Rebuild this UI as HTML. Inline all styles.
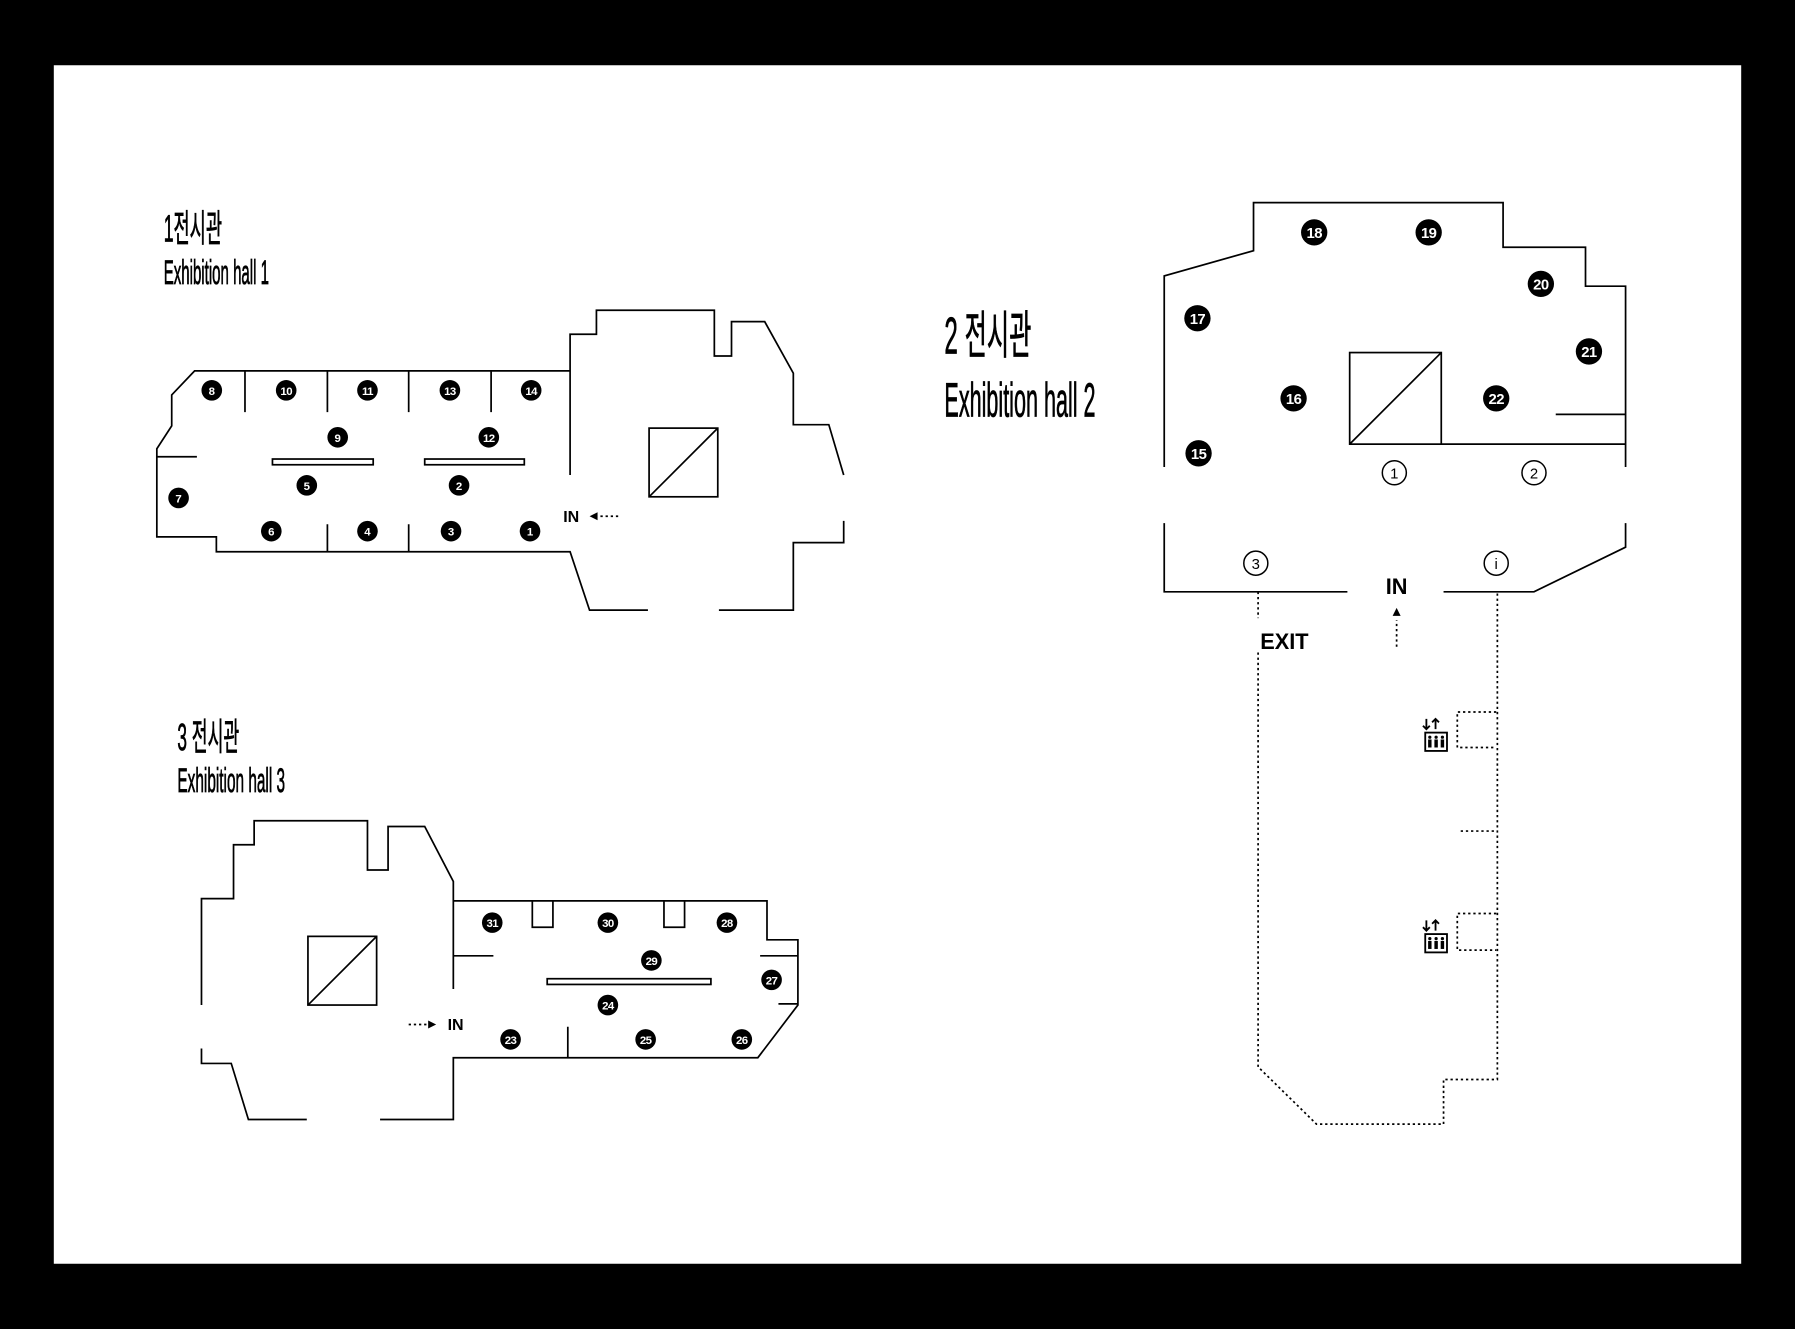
<!DOCTYPE html>
<html><head><meta charset="utf-8"><style>
html,body{margin:0;padding:0;background:#000;}
svg{display:block;}
text{font-family:"Liberation Sans","Noto Sans CJK KR",sans-serif;}
.t{font-family:"Liberation Sans Narrow","Liberation Sans","Noto Sans CJK KR",sans-serif;}
</style></head><body>
<svg width="1795" height="1329" viewBox="0 0 1568 1161" preserveAspectRatio="none" xmlns="http://www.w3.org/2000/svg">
<rect x="0" y="0" width="1568" height="1161" fill="#000"/>
<rect x="47" y="57" width="1474" height="1047" fill="#fff"/>
<defs>
<g id="elev">
<path d="M-9,-16 v9 M-12,-10 l3,3 l3,-3 M-1,-7 v-9 M-4,-13 l3,-3 l3,3" stroke="#000" stroke-width="1.6" fill="none"/>
<rect x="-10" y="-4" width="19" height="16" fill="#fff" stroke="#000" stroke-width="1.6"/>
<g fill="#000"><rect x="-7.5" y="2" width="3" height="7"/><rect x="-2" y="2" width="3" height="7"/><rect x="3.5" y="2" width="3" height="7"/>
<circle cx="-6" cy="0" r="1.4"/><circle cx="-0.5" cy="0" r="1.4"/><circle cx="5" cy="0" r="1.4"/></g>
</g>
</defs>

<!-- Titles -->
<g class="t" fill="#000" stroke="#000" stroke-width="0.7">
<text x="143" y="211" font-size="33" textLength="51" lengthAdjust="spacingAndGlyphs">1전시관</text>
<text x="143" y="248" font-size="30" textLength="92" lengthAdjust="spacingAndGlyphs">Exhibition hall 1</text>
<text x="825" y="309" font-size="45" textLength="76" lengthAdjust="spacingAndGlyphs">2 전시관</text>
<text x="825" y="364" font-size="42" textLength="132" lengthAdjust="spacingAndGlyphs">Exhibition hall 2</text>
<text x="155" y="655" font-size="33" textLength="54" lengthAdjust="spacingAndGlyphs">3 전시관</text>
<text x="155" y="692" font-size="30" textLength="94" lengthAdjust="spacingAndGlyphs">Exhibition hall 3</text>
</g>

<g stroke="#000" stroke-width="1.5" fill="none">
<!-- Hall 1 -->
<path d="M498,324 H170 L150,345 V372 L137,392 V469 H189 V482 H498 L515,533 H566"/>
<path d="M137,399 H172"/>
<path d="M214,324 V360 M286,324 V360 M357,324 V360 M429,324 V360"/>
<path d="M286,458 V482 M357,458 V482"/>
<rect x="238" y="401" width="88" height="5"/>
<rect x="371" y="401" width="87" height="5"/>
<path d="M498,415 V292 H521 V271 H624 V311 H639 V281 H668 L693,326 V371 H724 L737,415"/>
<path d="M737,455 V474 H693 V533 H628"/>
<rect x="567" y="374" width="60" height="60"/>
<path d="M567,434 L627,374"/>
<!-- Hall 2 -->
<path d="M1017,408 V241 L1095,219 V177 H1313 V216 H1385 V250 H1420 V408"/>
<path d="M1017,457 V517 H1177 M1261,517 H1340 L1420,478 V457"/>
<rect x="1179" y="308" width="80" height="80"/>
<path d="M1179,388 L1259,308 M1259,388 H1420 M1359,362 H1420"/>
<!-- Hall 3 -->
<path d="M176,878 V785 H204 V738 H222 V717 H321 V760 H339 V722 H371 L396,770 V864"/>
<path d="M396,787 H670 V821 H697 V878 L662,924 H396 V978 H332"/>
<path d="M176,916 V929 H202 L217,978 H268"/>
<path d="M396,835 H431 M664,835 H697 M680,877 H697 M496,897 V924"/>
<path d="M465,787 V810 H483 V787 M580,787 V810 H598 V787"/>
<rect x="478" y="855" width="143" height="5"/>
<rect x="269" y="818" width="60" height="60"/>
<path d="M269,878 L329,818"/>
</g>

<!-- dotted -->
<g stroke="#000" stroke-width="1.5" fill="none" stroke-dasharray="2,2.5">
<path d="M540,451 H522"/>
<path d="M357,895 H374"/>
<path d="M1220,565 V542"/>
<path d="M1099,517 V540 M1099,570 V932 L1150,982 H1261 V943 H1308 V517"/>
<path d="M1307,622 H1273 V653 H1307 M1307,798 H1273 V830 H1307 M1276,726 H1307"/>
</g>
<g fill="#000">
<path d="M515,451 l7,-3.5 v7 z"/>
<path d="M381,895 l-7,-3.5 v7 z"/>
<path d="M1220,531 l-3.5,7 h7 z"/>
</g>
<g font-weight="bold" fill="#000">
<text x="499" y="456" font-size="14" text-anchor="middle">IN</text>
<text x="398" y="900" font-size="14" text-anchor="middle">IN</text>
<text x="1220" y="519" font-size="19" text-anchor="middle">IN</text>
<text x="1122" y="567" font-size="19" text-anchor="middle">EXIT</text>
</g>
<use href="#elev" x="1255" y="644"/>
<use href="#elev" x="1255" y="820"/>

<!-- outline circles -->
<g stroke="#000" stroke-width="1.3" fill="#fff">
<circle cx="1218" cy="413" r="10.5"/><circle cx="1340" cy="413" r="10.5"/>
<circle cx="1097" cy="492" r="10.5"/><circle cx="1307" cy="492" r="10.5"/>
</g>
<g font-size="13" text-anchor="middle" fill="#000">
<text x="1218" y="418">1</text><text x="1340" y="418">2</text>
<text x="1097" y="497">3</text><text x="1307" y="497">i</text>
</g>

<!-- markers small -->
<g fill="#000">
<circle cx="185" cy="341" r="9"/><circle cx="250" cy="341" r="9"/><circle cx="321" cy="341" r="9"/><circle cx="393" cy="341" r="9"/><circle cx="464" cy="341" r="9"/>
<circle cx="295" cy="382" r="9"/><circle cx="427" cy="382" r="9"/><circle cx="268" cy="424" r="9"/><circle cx="401" cy="424" r="9"/>
<circle cx="156" cy="435" r="9"/><circle cx="237" cy="464" r="9"/><circle cx="321" cy="464" r="9"/><circle cx="394" cy="464" r="9"/><circle cx="463" cy="464" r="9"/>
<circle cx="430" cy="806" r="9"/><circle cx="531" cy="806" r="9"/><circle cx="635" cy="806" r="9"/><circle cx="569" cy="839" r="9"/><circle cx="674" cy="856" r="9"/>
<circle cx="531" cy="878" r="9"/><circle cx="446" cy="908" r="9"/><circle cx="564" cy="908" r="9"/><circle cx="648" cy="908" r="9"/>
<circle cx="1148" cy="203" r="11.5"/><circle cx="1248" cy="203" r="11.5"/><circle cx="1346" cy="248" r="11.5"/><circle cx="1046" cy="278" r="11.5"/>
<circle cx="1388" cy="307" r="11.5"/><circle cx="1130" cy="348" r="11.5"/><circle cx="1307" cy="348" r="11.5"/><circle cx="1047" cy="396" r="11.5"/>
</g>
<g fill="#fff" font-weight="bold" font-size="10" text-anchor="middle">
<text x="185" y="345">8</text><text x="250" y="345" letter-spacing="-0.5">10</text><text x="321" y="345" letter-spacing="-0.5">11</text><text x="393" y="345" letter-spacing="-0.5">13</text><text x="464" y="345" letter-spacing="-0.5">14</text>
<text x="295" y="386">9</text><text x="427" y="386" letter-spacing="-0.5">12</text><text x="268" y="428">5</text><text x="401" y="428">2</text>
<text x="156" y="439">7</text><text x="237" y="468">6</text><text x="321" y="468">4</text><text x="394" y="468">3</text><text x="463" y="468">1</text>
<text x="430" y="810" letter-spacing="-0.5">31</text><text x="531" y="810" letter-spacing="-0.5">30</text><text x="635" y="810" letter-spacing="-0.5">28</text><text x="569" y="843" letter-spacing="-0.5">29</text><text x="674" y="860" letter-spacing="-0.5">27</text>
<text x="531" y="882" letter-spacing="-0.5">24</text><text x="446" y="912" letter-spacing="-0.5">23</text><text x="564" y="912" letter-spacing="-0.5">25</text><text x="648" y="912" letter-spacing="-0.5">26</text>
</g>
<g fill="#fff" font-weight="bold" font-size="13" text-anchor="middle" letter-spacing="-0.5">
<text x="1148" y="208">18</text><text x="1248" y="208">19</text><text x="1346" y="253">20</text><text x="1046" y="283">17</text>
<text x="1388" y="312">21</text><text x="1130" y="353">16</text><text x="1307" y="353">22</text><text x="1047" y="401">15</text>
</g>
</svg>
</body></html>
